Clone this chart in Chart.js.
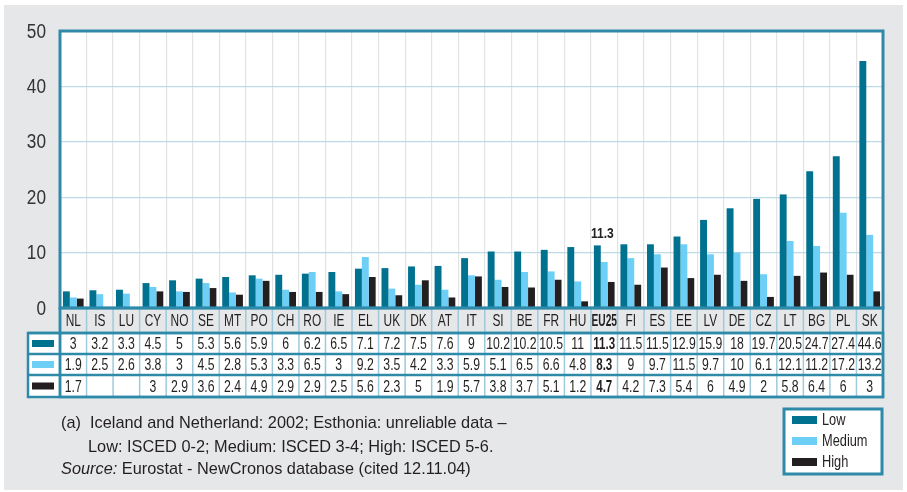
<!DOCTYPE html>
<html><head><meta charset="utf-8">
<script src="https://cdn.jsdelivr.net/npm/chart.js@4"></script>
<style>html,body{margin:0;padding:0;background:#fff;}#wrap{width:907px;height:492px;position:relative;}</style>
</head><body><div id="wrap"><canvas id="c" width="907" height="492"></canvas></div>
<script>
const categories = ["NL","IS","LU","CY","NO","SE","MT","PO","CH","RO","IE","EL","UK","DK","AT","IT","SI","BE","FR","HU","EU25","FI","ES","EE","LV","DE","CZ","LT","BG","PL","SK"];
const low = [3,3.2,3.3,4.5,5,5.3,5.6,5.9,6,6.2,6.5,7.1,7.2,7.5,7.6,9,10.2,10.2,10.5,11,11.3,11.5,11.5,12.9,15.9,18,19.7,20.5,24.7,27.4,44.6];
const medium = [1.9,2.5,2.6,3.8,3,4.5,2.8,5.3,3.3,6.5,3,9.2,3.5,4.2,3.3,5.9,5.1,6.5,6.6,4.8,8.3,9,9.7,11.5,9.7,10,6.1,12.1,11.2,17.2,13.2];
const high = [1.7,null,null,3,2.9,3.6,2.4,4.9,2.9,2.9,2.5,5.6,2.3,5,1.9,5.7,3.8,3.7,5.1,1.2,4.7,4.2,7.3,5.4,6,4.9,2,5.8,6.4,6,3];
const seriesNames = ["Low","Medium","High"];
const highlight = "EU25";
const yTicks = [0,10,20,30,40,50];
const footLines = ["(a)  Iceland and Netherland: 2002; Esthonia: unreliable data \u2013","Low: ISCED 0-2; Medium: ISCED 3-4; High: ISCED 5-6.","Eurostat - NewCronos database (cited 12.11.04)"];

const colors = ["#00728f","#6dcff6","#231f20"];
const TEAL = "#2f8aaa";
const LIGHTBLUE = "#9fcadb";
const SANS = "'Liberation Sans',Arial,sans-serif";

function condText(ctx, text, x, y, sx){
  ctx.save(); ctx.translate(x,y); ctx.scale(sx,1); ctx.fillText(text,0,0); ctx.restore();
}

const deco = {
  id:'deco',
  beforeDraw(chart){
    const ctx = chart.ctx;
    ctx.save();
    ctx.fillStyle = "#fff"; ctx.fillRect(0,0,907,492);
    ctx.fillStyle = "#e6e7e9"; ctx.fillRect(4,5,899,485);
    const a = chart.chartArea;
    ctx.fillStyle = "#fff"; ctx.fillRect(a.left,a.top,a.right-a.left,a.bottom-a.top);
    ctx.restore();
  },
  afterDraw(chart){
    const ctx = chart.ctx, a = chart.chartArea, xs = chart.scales.x, ys = chart.scales.y;
    const n = categories.length, cw = (a.right-a.left)/n;
    ctx.save();
    // y tick labels
    ctx.fillStyle = "#333"; ctx.font = "20px "+SANS; ctx.textAlign = "right"; ctx.textBaseline = "middle";
    ys.ticks.forEach(t=>{ condText(ctx, String(t.value), 46, ys.getPixelForValue(t.value)+1, 0.86); });
    // annotation
    const hi = categories.indexOf(highlight);
    const bar = chart.getDatasetMeta(0).data[hi];
    ctx.fillStyle = "#222"; ctx.font = "bold 14px "+SANS; ctx.textAlign="center"; ctx.textBaseline="bottom";
    condText(ctx, String(low[hi]), bar.x+5, bar.y-4, 0.86);
    // table
    const tL = 28, rowTop = [a.bottom, 333, 354, 375], rowBot = [333, 354, 375, 397];
    ctx.fillStyle = "#e6e7e9"; ctx.fillRect(a.left, rowTop[0], a.right-a.left, rowBot[0]-rowTop[0]);
    ctx.fillStyle = "#fff"; ctx.fillRect(tL, rowTop[1], a.right-tL, rowBot[3]-rowTop[1]);
    ctx.strokeStyle = LIGHTBLUE; ctx.lineWidth = 1.5;
    for(let i=1;i<n;i++){
      const x = a.left + i*cw;
      ctx.beginPath(); ctx.moveTo(x, rowTop[0]); ctx.lineTo(x, rowBot[3]); ctx.stroke();
    }
    ctx.strokeStyle = TEAL; ctx.lineWidth = 2.5;
    [333,354,375].forEach(y=>{ctx.beginPath(); ctx.moveTo(tL,y); ctx.lineTo(a.right,y); ctx.stroke();});
    ctx.beginPath(); ctx.moveTo(a.left, a.bottom); ctx.lineTo(a.left, rowBot[3]); ctx.stroke();
    ctx.strokeRect(tL, 333, a.right-tL, rowBot[3]-333);
    ctx.strokeRect(a.left, a.bottom, a.right-a.left, rowBot[3]-a.bottom);
    const data = [low, medium, high];
    for(let r=0;r<3;r++){
      const cy = (rowTop[r+1]+rowBot[r+1])/2;
      ctx.fillStyle = colors[r]; ctx.fillRect(32, cy-3.5, 22, 7);
    }
    ctx.textAlign = "center"; ctx.textBaseline = "middle"; ctx.fillStyle = "#231f20";
    for(let i=0;i<n;i++){
      const x = xs.getPixelForValue(i);
      const bold = categories[i]===highlight;
      ctx.font = (bold?"bold ":"")+"17px "+SANS;
      condText(ctx, categories[i], x, (rowTop[0]+rowBot[0])/2+1, bold?0.6:0.7);
      for(let r=0;r<3;r++){
        const v = data[r][i];
        if(v===null||v===undefined) continue;
        condText(ctx, String(v), x, (rowTop[r+1]+rowBot[r+1])/2+1, bold?0.68:0.72);
      }
    }
    // plot border
    ctx.strokeStyle = TEAL; ctx.lineWidth = 3;
    ctx.strokeRect(a.left, a.top, a.right-a.left, a.bottom-a.top);
    // legend box
    ctx.fillStyle = "#fff"; ctx.fillRect(784,409,98,65);
    ctx.strokeStyle = TEAL; ctx.lineWidth = 3; ctx.strokeRect(784,409,98,65);
    ctx.textAlign = "left"; ctx.font = "16px "+SANS;
    for(let r=0;r<3;r++){
      const cy = 420 + r*21;
      ctx.fillStyle = colors[r]; ctx.fillRect(792, cy-4, 25, 8);
      ctx.fillStyle = "#231f20"; condText(ctx, seriesNames[r], 822, cy+1, 0.8);
    }
    // footnote
    ctx.fillStyle = "#231f20";
    ctx.font = "17px "+SANS;
    condText(ctx, footLines[0], 61, 423, 0.96);
    condText(ctx, footLines[1], 88, 447, 0.96);
    ctx.font = "italic 17px "+SANS;
    const src = "Source:";
    condText(ctx, src, 61, 469, 0.96);
    const w = ctx.measureText(src+" ").width*0.96;
    ctx.font = "17px "+SANS;
    condText(ctx, footLines[2], 61+w, 469, 0.96);
    ctx.restore();
  }
};

new Chart(document.getElementById('c'), {
  type:'bar',
  data:{labels:categories, datasets:[
    {label:seriesNames[0], data:low, backgroundColor:colors[0]},
    {label:seriesNames[1], data:medium, backgroundColor:colors[1]},
    {label:seriesNames[2], data:high, backgroundColor:colors[2]}
  ]},
  options:{
    responsive:false, animation:false, devicePixelRatio:1,
    layout:{padding:{top:31,right:24,bottom:184,left:0}},
    datasets:{bar:{categoryPercentage:0.78, barPercentage:1.0, borderWidth:0}},
    plugins:{legend:{display:false}, tooltip:{enabled:false}},
    scales:{
      x:{ticks:{display:false}, grid:{color:"#e2e3e5", lineWidth:1.2, drawTicks:false}, border:{display:false},
         afterFit(s){s.height=0;}},
      y:{min:0,max:50, afterBuildTicks(s){s.ticks = yTicks.map(v=>({value:v}));},
         ticks:{display:false},
         grid:{color:"#bcdbe7", lineWidth:1.2, drawTicks:false}, border:{display:false},
         afterFit(s){s.width=60;}}
    }
  },
  plugins:[deco]
});
</script></body></html>
